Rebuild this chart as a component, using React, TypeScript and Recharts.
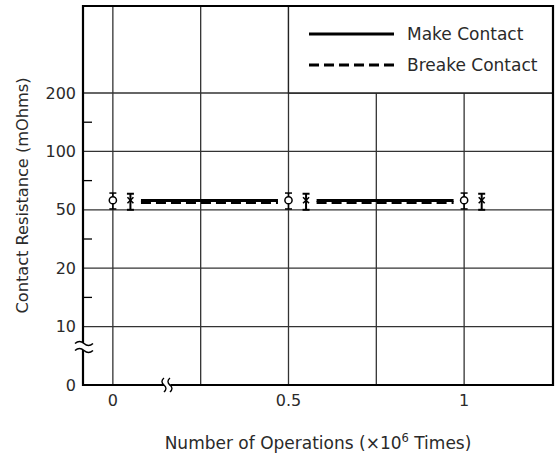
import React from 'react';
import {
  ComposedChart,
  Line,
  Scatter,
  ErrorBar,
  XAxis,
  YAxis,
  CartesianGrid,
  ReferenceArea,
  ReferenceDot,
} from 'recharts';

// y axis is a broken log-ish scale: each labelled value sits one step apart
const yTickValues = [0, 10, 20, 50, 100, 200];
const yMinorSteps = [1.5, 2.5, 3.5, 4.5];
const xTicks = [0, 0.25, 0.5, 0.75, 1];
const xTickLabels = ['0', '', '0.5', '', '1'];

// Make contact (open circles)
const makeOps = [0, 0.5, 1];
const makeRes = [56, 56, 56];
const makeLow = [50.5, 50.5, 50.5];
const makeHigh = [61, 61, 61];

// Break contact (crosses)
const breakOps = [0.05, 0.55, 1.05];
const breakRes = [56, 56, 56];
const breakLow = [50, 50, 50];
const breakHigh = [60.5, 60.5, 60.5];

// horizontal trend segments
const segStart = [0.08, 0.58];
const segEnd = [0.47, 0.97];
const makeLineRes = 55.8;
const breakLineRes = 54.6;

const legendNames = ['Make Contact', 'Breake Contact'];

const xDomain: [number, number] = [-0.085, 1.253];
const yDomain: [number, number] = [0, 6.49];

const FONT = '"DejaVu Sans", sans-serif';
const TEXT = '#2a2a2a';

// value (mOhms) -> step position on the broken axis
function toPos(v: number) {
  if (v <= yTickValues[1]) return v / yTickValues[1];
  for (let i = 1; i < yTickValues.length - 1; i++) {
    const lo = yTickValues[i];
    const hi = yTickValues[i + 1];
    if (v <= hi) return i + Math.log(v / lo) / Math.log(hi / lo);
  }
  const n = yTickValues.length;
  return n - 2 + Math.log(v / yTickValues[n - 2]) / Math.log(yTickValues[n - 1] / yTickValues[n - 2]);
}

const makeData = makeOps.map((x, i) => ({
  x,
  y: toPos(makeRes[i]),
  err: [toPos(makeRes[i]) - toPos(makeLow[i]), toPos(makeHigh[i]) - toPos(makeRes[i])],
}));

const breakData = breakOps.map((x, i) => ({
  x,
  y: toPos(breakRes[i]),
  err: [toPos(breakRes[i]) - toPos(breakLow[i]), toPos(breakHigh[i]) - toPos(breakRes[i])],
}));

const makeSegments = segStart.map((s, i) => [
  { x: s, y: toPos(makeLineRes) },
  { x: segEnd[i], y: toPos(makeLineRes) },
]);
const breakSegments = segStart.map((s, i) => [
  { x: s, y: toPos(breakLineRes) },
  { x: segEnd[i], y: toPos(breakLineRes) },
]);

const CircleMark = (props: any) => (
  <circle cx={props.cx} cy={props.cy} r={3.6} fill="#fff" stroke="#000" strokeWidth={1.5} />
);

const CrossMark = (props: any) => {
  const { cx, cy } = props;
  return (
    <g stroke="#000" strokeWidth={1.6}>
      <line x1={cx - 3} y1={cy - 3} x2={cx + 3} y2={cy + 3} />
      <line x1={cx - 3} y1={cy + 3} x2={cx + 3} y2={cy - 3} />
    </g>
  );
};

const MinorTick = (props: any) => (
  <line x1={props.cx} x2={props.cx + 9} y1={props.cy} y2={props.cy} stroke="#000" strokeWidth={1.3} />
);

// "≈" break on the y axis
const YBreak = (props: any) => {
  const { cx, cy } = props;
  const x0 = cx - 8;
  return (
    <g>
      <path
        d={`M ${x0} ${cy - 3.5} q 4.5 -4 9 0 t 9 0 L ${x0 + 18} ${cy + 3.5} q -4.5 4 -9 0 t -9 0 Z`}
        fill="#fff"
        stroke="none"
      />
      <path d={`M ${x0} ${cy - 3.5} q 4.5 -4 9 0 t 9 0`} fill="none" stroke="#000" strokeWidth={1.5} />
      <path d={`M ${x0} ${cy + 3.5} q 4.5 -4 9 0 t 9 0`} fill="none" stroke="#000" strokeWidth={1.5} />
    </g>
  );
};

// "((" break on the x axis
const XBreak = (props: any) => {
  const { cx, cy } = props;
  const y0 = cy - 7;
  return (
    <g>
      <path
        d={`M ${cx - 3} ${y0} q -4 3.5 0 7 t 0 7 L ${cx + 3} ${y0 + 14} q -4 -3.5 0 -7 t 0 -7 Z`}
        fill="#fff"
        stroke="none"
      />
      <path d={`M ${cx - 3} ${y0} q -4 3.5 0 7 t 0 7`} fill="none" stroke="#000" strokeWidth={1.4} />
      <path d={`M ${cx + 3} ${y0} q -4 3.5 0 7 t 0 7`} fill="none" stroke="#000" strokeWidth={1.4} />
    </g>
  );
};

// legend drawn as an overlay sitting in the white corner box
const LegendOverlay = () => (
  <svg
    width={250}
    height={80}
    style={{ position: 'absolute', left: 300, top: 12, overflow: 'visible' }}
  >
    <g fontFamily={FONT} fontSize={17} fill={TEXT}>
      <line x1={9} x2={94} y1={22} y2={22} stroke="#000" strokeWidth={3} />
      <text x={107} y={28}>{legendNames[0]}</text>
      <line x1={9} x2={94} y1={53} y2={53} stroke="#000" strokeWidth={3} strokeDasharray="10 5" />
      <text x={107} y={59}>{legendNames[1]}</text>
    </g>
  </svg>
);

const XLabel = (props: any) => {
  const vb = props.viewBox || { x: 83, y: 385, width: 470 };
  return (
    <text x={vb.x + vb.width / 2} y={vb.y + 64} textAnchor="middle" fontFamily={FONT} fontSize={17} fill={TEXT}>
      Number of Operations (×10
      <tspan fontSize={11.5} dy={-7}>6</tspan>
      <tspan dy={7}> Times)</tspan>
    </text>
  );
};

const YLabel = (props: any) => {
  const vb = props.viewBox || { x: 23, y: 6, height: 379 };
  const cy = vb.y + vb.height / 2;
  return (
    <text
      x={22}
      y={cy}
      transform={`rotate(-90, 22, ${cy})`}
      textAnchor="middle"
      dominantBaseline="central"
      fontFamily={FONT}
      fontSize={16.2}
      fill={TEXT}
    >
      Contact Resistance (mOhms)
    </text>
  );
};

export default function App() {
  return (
    <div style={{ position: 'absolute', left: 0, top: 0, width: 555, height: 461, background: '#fff' }}>
      <ComposedChart width={555} height={461} margin={{ top: 6, right: 2, left: 23, bottom: 46 }}>
        <CartesianGrid stroke="#333" strokeWidth={1.3} />
        <XAxis
          dataKey="x"
          type="number"
          domain={xDomain}
          ticks={xTicks}
          tickFormatter={(v: number) => xTickLabels[xTicks.indexOf(v)] ?? ''}
          axisLine={false}
          tickLine={false}
          tickSize={0}
          tickMargin={10}
          height={30}
          allowDataOverflow
          tick={{ fontFamily: FONT, fontSize: 16, fill: TEXT }}
          label={<XLabel />}
        />
        <YAxis
          dataKey="y"
          type="number"
          domain={yDomain}
          ticks={yTickValues.map((_, i) => i)}
          tickFormatter={(v: number) => String(yTickValues[v])}
          axisLine={false}
          tickLine={false}
          tickSize={0}
          tickMargin={7}
          width={60}
          allowDataOverflow
          tick={{ fontFamily: FONT, fontSize: 16, fill: TEXT }}
          label={<YLabel />}
        />
        <ReferenceArea x1={0.5} x2={xDomain[1]} y1={5} y2={yDomain[1]} fill="#fff" fillOpacity={1} stroke="#222" strokeWidth={1.3} />
        <ReferenceArea x1={xDomain[0]} x2={xDomain[1]} y1={yDomain[0]} y2={yDomain[1]} fill="none" stroke="#000" strokeWidth={2.2} />
        {yMinorSteps.map((s) => (
          <ReferenceDot key={s} x={xDomain[0]} y={s} r={0} shape={<MinorTick />} ifOverflow="visible" />
        ))}
        {makeSegments.map((seg, i) => (
          <Line key={'m' + i} data={seg} dataKey="y" stroke="#000" strokeWidth={3} dot={false} isAnimationActive={false} />
        ))}
        {breakSegments.map((seg, i) => (
          <Line
            key={'b' + i}
            data={seg}
            dataKey="y"
            stroke="#000"
            strokeWidth={3}
            strokeDasharray="10 5"
            dot={false}
            isAnimationActive={false}
          />
        ))}
        <Scatter data={makeData} dataKey="y" shape={<CircleMark />} isAnimationActive={false}>
          <ErrorBar dataKey="err" direction="y" width={3.5} stroke="#000" strokeWidth={1.5} isAnimationActive={false} />
        </Scatter>
        <Scatter data={breakData} dataKey="y" shape={<CrossMark />} isAnimationActive={false}>
          <ErrorBar dataKey="err" direction="y" width={3.5} stroke="#000" strokeWidth={2} isAnimationActive={false} />
        </Scatter>
        <ReferenceDot x={xDomain[0]} y={0.65} r={0} shape={<YBreak />} ifOverflow="visible" />
        <ReferenceDot x={0.154} y={0} r={0} shape={<XBreak />} ifOverflow="visible" />
      </ComposedChart>
      <LegendOverlay />
    </div>
  );
}
